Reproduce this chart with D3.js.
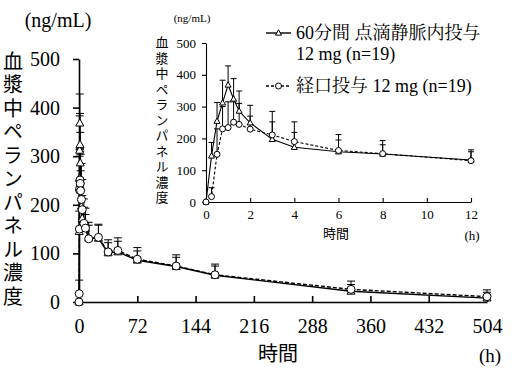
<!DOCTYPE html>
<html>
<head>
<meta charset="utf-8">
<script src="https://cdn.jsdelivr.net/npm/d3@7/dist/d3.min.js"></script>
<style>
  body { margin: 0; background: #fff; }
  svg { display: block; }
</style>
</head>
<body>
<div id="chart"></div>
<script>
// sampling times (h)
var times = [0, 0.25, 0.5, 0.75, 1, 1.25, 1.5, 2, 3, 4, 6, 8, 12, 24, 36, 48, 72, 120, 168, 336, 504];
// 60 min IV infusion 12 mg : mean and SD (ng/mL)
var ivMean = [0, 145, 254, 312, 368, 324, 286, 249, 197, 172, 158, 151, 132, 131, 101, 103, 86, 73, 55, 22, 8];
var ivSD   = [0, 42, 59, 71, 60, 64, 63, 55, 88, 80, 54, 42, 32, 29, 27, 29, 26, 24, 23, 21, 12];
// oral 12 mg : mean and SD (ng/mL)
var oralMean = [0, 17, 150, 230, 234, 251, 244, 229, 211, 190, 162, 152, 130, 133, 103, 106, 88, 74, 56, 26, 11];
var oralSD   = [0, 28, 80, 70, 81, 64, 66, 41, 41, 29, 33, 28, 28, 25, 19, 19, 17, 18, 18, 10, 14];

var mainXTicks = [0, 72, 144, 216, 288, 360, 432, 504];
var mainYTicks = [0, 100, 200, 300, 400, 500];
var insetXTicks = [0, 2, 4, 6, 8, 10, 12];
var insetYTicks = [0, 100, 200, 300, 400, 500];

var yLabel = "血漿中ペランパネル濃度";
var xLabel = "時間";
var ivName = ["60分間 点滴静脈内投与", "12 mg (n=19)"];
var oralName = "経口投与 12 mg (n=19)";

var W = 526, H = 377;
var serif = "'Liberation Serif', 'Noto Serif CJK JP'";
var gothic = "'Noto Sans CJK JP'";

var svg = d3.select("#chart").append("svg").attr("width", W).attr("height", H);

var iv = times.map(function (t, i) { return { t: t, v: ivMean[i], sd: ivSD[i] }; });
var oral = times.map(function (t, i) { return { t: t, v: oralMean[i], sd: oralSD[i] }; });

function triPath(s) {
  var h = s * 0.9;
  return "M0," + (-h * 0.6) + "L" + (s / 2) + "," + (h * 0.4) + "L" + (-s / 2) + "," + (h * 0.4) + "Z";
}

// draws one panel (main or inset)
function drawPanel(g, x, y, opt) {
  var xAxis = d3.axisBottom(x).tickValues(opt.xTicks).tickSizeInner(-opt.xTick).tickSizeOuter(0).tickPadding(opt.xPad);
  var yAxis = d3.axisLeft(y).tickValues(opt.yTicks).tickSizeInner(opt.yTick).tickSizeOuter(0).tickPadding(opt.yPad);

  var gx = g.append("g").attr("transform", "translate(0," + y(0) + ")").call(xAxis);
  var gy = g.append("g").attr("transform", "translate(" + x(0) + ",0)").call(yAxis);
  [gx, gy].forEach(function (a) {
    a.attr("font-family", serif).attr("font-size", opt.tickFont);
    a.selectAll("path, line").attr("stroke", "#000").attr("stroke-width", opt.axisW);
    a.selectAll("text").style("font-family", serif).style("font-size", opt.tickFont + "px").attr("fill", "#000");
  });

  var series = [
    { d: opt.filter(iv), dash: null, shape: "tri" },
    { d: opt.filter(oral), dash: opt.dash, shape: "circ" }
  ];

  var line = d3.line().x(function (d) { return x(d.t); }).y(function (d) { return y(d.v); });

  // error bars (mean + SD)
  series.forEach(function (s) {
    var eb = g.append("g").selectAll("g").data(s.d.filter(function (d) { return d.sd > 0; })).enter().append("g");
    eb.append("line")
      .attr("x1", function (d) { return x(d.t); }).attr("x2", function (d) { return x(d.t); })
      .attr("y1", function (d) { return y(d.v); }).attr("y2", function (d) { return y(d.v + d.sd); })
      .attr("stroke", "#000").attr("stroke-width", 1);
    eb.append("line")
      .attr("x1", function (d) { return x(d.t) - opt.cap; }).attr("x2", function (d) { return x(d.t) + opt.cap; })
      .attr("y1", function (d) { return y(d.v + d.sd); }).attr("y2", function (d) { return y(d.v + d.sd); })
      .attr("stroke", "#000").attr("stroke-width", 1);
  });

  series.forEach(function (s) {
    g.append("path").datum(s.d).attr("d", line)
      .attr("fill", "none").attr("stroke", "#000").attr("stroke-width", opt.lineW)
      .attr("stroke-dasharray", s.dash);
  });

  series.forEach(function (s) {
    var m = g.append("g").selectAll("path").data(s.d).enter().append("path")
      .attr("transform", function (d) { return "translate(" + x(d.t) + "," + y(d.v) + ")"; })
      .attr("fill", "#fff").attr("stroke", "#000").attr("stroke-width", 1);
    if (s.shape == "tri") m.attr("d", triPath(opt.mk));
    else m.attr("d", d3.symbol().type(d3.symbolCircle).size(Math.PI * Math.pow(opt.mk / 2, 2)));
  });

  // vertical label
  g.append("text").attr("x", opt.vlX).attr("y", opt.vlY)
    .style("writing-mode", "vertical-rl")
    .style("letter-spacing", (opt.vlStep - opt.vlFont) + "px")
    .style("font-family", gothic).style("font-size", opt.vlFont + "px").text(yLabel);

  g.append("text").attr("x", opt.unitX).attr("y", opt.unitY).attr("text-anchor", "middle")
    .style("font-family", serif).style("font-size", opt.unitFont + "px").text("(ng/mL)");
  g.append("text").attr("x", opt.xlX).attr("y", opt.xlY).attr("text-anchor", "middle")
    .style("font-family", gothic).style("font-size", opt.xlFont + "px").text(xLabel);
  g.append("text").attr("x", x(opt.xTicks[opt.xTicks.length - 1]) + opt.hDx).attr("y", opt.hY).attr("text-anchor", "middle")
    .style("font-family", serif).style("font-size", opt.hFont + "px").text("(h)");
}

// main panel
var xMain = d3.scaleLinear().domain([0, 504]).range([79, 487]);
var yMain = d3.scaleLinear().domain([0, 500]).range([302, 59]);
drawPanel(svg.append("g"), xMain, yMain, {
  xTicks: mainXTicks, yTicks: mainYTicks, xTick: 6, yTick: 6, xPad: 17, yPad: 13,
  axisW: 1.6, tickFont: 20, lineW: 1.4, dash: "4,2", cap: 4, mk: 8,
  filter: function (d) { return d; },
  vlX: 13, vlY: 51, vlStep: 23.5, vlFont: 20,
  unitX: 58, unitY: 27, unitFont: 20,
  xlX: 278, xlY: 361, xlFont: 20,
  hDx: 3, hY: 362, hFont: 19
});

// inset panel (0-12 h)
var xIn = d3.scaleLinear().domain([0, 12]).range([206, 471]);
var yIn = d3.scaleLinear().domain([0, 500]).range([202, 43]);
drawPanel(svg.append("g"), xIn, yIn, {
  xTicks: insetXTicks, yTicks: insetYTicks, xTick: 4, yTick: 4, xPad: 8, yPad: 6,
  axisW: 1.1, tickFont: 13, lineW: 1.1, dash: "3,2", cap: 3, mk: 6,
  filter: function (d) { return d.filter(function (p) { return p.t <= 12; }); },
  vlX: 162, vlY: 36, vlStep: 15.5, vlFont: 13,
  unitX: 192, unitY: 22, unitFont: 11,
  xlX: 336, xlY: 238, xlFont: 13,
  hDx: 1, hY: 240, hFont: 13
});

// legend
var lg = svg.append("g");
var legendRows = [
  { y: 33, dash: null, shape: "tri", text: ivName[0] },
  { y: 86, dash: "3,2", shape: "circ", text: oralName }
];
legendRows.forEach(function (r) {
  lg.append("line").attr("x1", 266).attr("x2", 291).attr("y1", r.y).attr("y2", r.y)
    .attr("stroke", "#000").attr("stroke-width", 1.4).attr("stroke-dasharray", r.dash);
  var m = lg.append("path").attr("transform", "translate(278.5," + r.y + ")")
    .attr("fill", "#fff").attr("stroke", "#000").attr("stroke-width", 1);
  if (r.shape == "tri") m.attr("d", triPath(6));
  else m.attr("d", d3.symbol().type(d3.symbolCircle).size(Math.PI * 9));
  lg.append("text").attr("x", 296).attr("y", r.y).attr("dominant-baseline", "central")
    .style("font-family", serif).style("font-size", "18px").text(r.text);
});
lg.append("text").attr("x", 296).attr("y", 54).attr("dominant-baseline", "central")
  .style("font-family", serif).style("font-size", "18px").text(ivName[1]);
</script>
</body>
</html>
